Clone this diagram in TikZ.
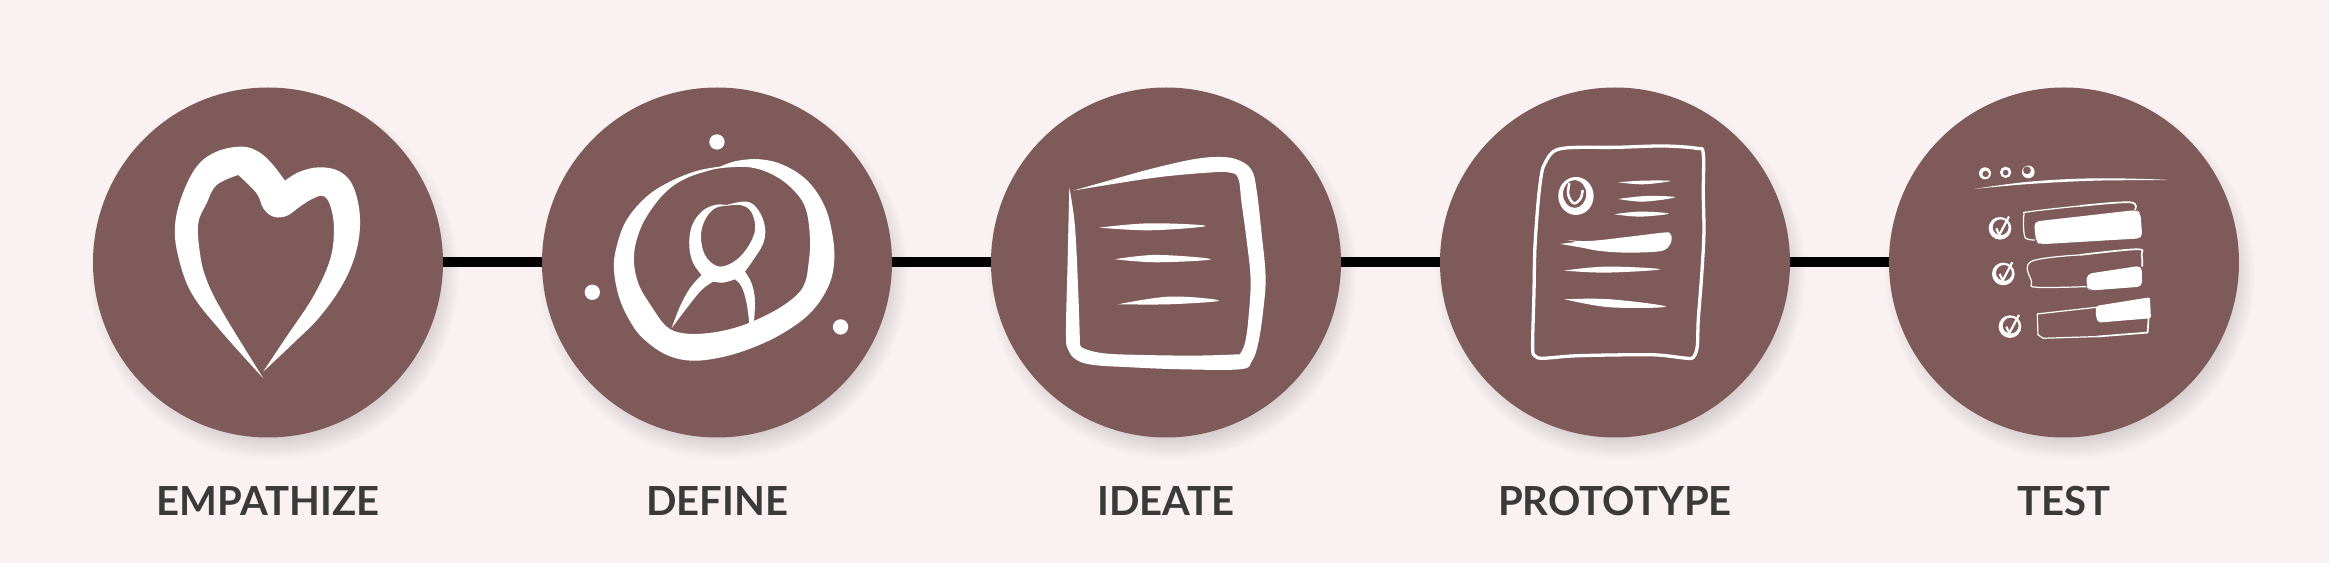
\documentclass[tikz,border=0pt]{standalone}
\usepackage{fontspec}
\setmainfont{Lato}
\usepackage{tikz}
\usetikzlibrary{positioning,backgrounds}
\definecolor{hatter}{RGB}{250,241,242}
\definecolor{barna}{RGB}{127,90,90}
\definecolor{betu}{RGB}{58,58,58}
\tikzset{
  kor/.style={circle,fill=barna,minimum size=3.5cm,inner sep=0pt,outer sep=0pt},
  vonal/.style={line width=1mm,black},
  cimke/.style={inner sep=0pt,text height=2.9mm,text depth=0pt,text=betu,
    font=\fontsize{11.4}{12}\selectfont\bfseries},
  ikon/.style 2 args={shift={(#1,#2)},x=.03333mm,y=-.03333mm},
  kez/.style={smooth,tension=.62},
  toll/.style={draw=white,line width=.33mm,line join=round},
  szal/.style={draw=white,line width=.12mm,line join=round},
  blokk/.style={fill=white,rounded corners=.5mm},
}

\begin{document}
\begin{tikzpicture}[x=.1mm,y=-.1mm,node distance=9.9mm]
  \useasboundingbox (0,0) rectangle (2329,563);

  \node[kor] (emp) at (268,262.5) {};
  \node[kor] (def) [right=of emp] {};
  \node[kor] (ide) [right=of def] {};
  \node[kor] (pro) [right=of ide] {};
  \node[kor] (tes) [right=of pro] {};
  \draw[vonal] (emp) -- (def);
  \draw[vonal] (def) -- (ide);
  \draw[vonal] (ide) -- (pro);
  \draw[vonal] (pro) -- (tes);
  \node[cimke] (empc) [below=4.85mm of emp] {EMPATHIZE};
  \node[cimke] (defc) [below=4.85mm of def] {DEFINE};
  \node[cimke] (idec) [below=4.85mm of ide] {IDEATE};
  \node[cimke] (proc) [below=4.85mm of pro] {PROTOTYPE};
  \node[cimke] (tesc) [below=4.85mm of tes] {TEST};

  \begin{scope}[on background layer]
    \fill[hatter] (0,0) rectangle (2329,563);
    \foreach \n in {emp,def,ide,pro,tes}
      \foreach \r in {145,147,...,185}
        \fill[black,opacity=.011] ([shift={(6,12)}]\n.center) circle (\r);
  \end{scope}

  \begin{scope}[ikon={60}{60}]
    \fill[white] plot[kez] coordinates {(610,955) (480,810) (395,700) (355,590) (345,500) (365,410)
      (410,320) (470,275) (545,260) (595,275) (635,310) (675,362)}
      -- plot[kez] coordinates {(675,362) (720,335) (780,322) (840,335) (880,380) (900,470) (890,570)
      (850,670) (780,770) (700,850) (610,935)}
      -- plot[kez] coordinates {(610,935) (680,830) (760,710) (810,600) (822,510) (812,440) (790,408)
      (755,418) (720,440) (680,468) (640,470) (610,445) (590,400) (535,345)}
      -- plot[kez] coordinates {(535,345) (470,375) (440,430) (415,490) (420,580) (440,660)
      (490,760) (610,955)} -- cycle;
  \end{scope}

  \begin{scope}[ikon={520}{60}]
    \fill[white] (591,246) circle (23) (217,697) circle (23) (962,801) circle (23);
    \fill[white,even odd rule] plot[kez] coordinates {(600,320) (650,303) (720,298) (790,315) (860,360)
      (910,430) (935,510) (943,600) (925,680) (870,760) (780,825) (680,870) (590,895) (510,902)
      (440,885) (380,845) (340,800) (300,720) (282,630) (290,560) (320,480) (380,410) (450,365)
      (530,333) (600,320)} -- cycle
      plot[kez] coordinates {(585,327) (510,350) (450,385) (400,440) (360,510) (342,590) (355,670)
      (395,740) (440,800) (490,820) (560,820) (640,805) (720,775) (800,730) (850,680) (866,610)
      (870,530) (855,440) (810,380) (750,340) (690,322) (630,322) (585,327)} -- cycle;
    \fill[white,even odd rule] plot[kez] coordinates {(620,435) (680,425) (715,450) (735,500) (730,550)
      (700,600) (675,635)}
      -- plot[kez] coordinates {(675,635) (695,670) (705,720) (702,785)} -- (688,790)
      -- plot[kez] coordinates {(688,790) (680,730) (665,680) (645,658)}
      -- plot[kez] coordinates {(645,658) (610,668) (580,665)}
      -- plot[kez] coordinates {(580,665) (545,690) (500,745) (455,805)}
      -- plot[kez] coordinates {(455,805) (480,740) (510,685) (545,645)}
      -- plot[kez] coordinates {(545,645) (520,610) (508,560) (515,500) (545,455) (585,435) (620,435)} -- cycle
      plot[kez] coordinates {(625,437) (585,445) (555,480) (543,530) (555,585) (590,618) (630,612)
      (670,580) (700,530) (705,490) (690,450) (660,435) (625,437)} -- cycle;
  \end{scope}

  \begin{scope}[ikon={980}{60}]
    \fill[white] plot[kez] coordinates {(268,382) (263,600) (258,820) (265,870) (290,900) (340,915)
      (450,922) (600,928) (780,928) (815,905) (835,850) (850,750) (857,650) (845,520) (830,390)
      (815,330) (775,300) (720,291) (640,298) (520,325) (400,358) (280,392)}
      -- plot[kez] coordinates {(280,392) (400,372) (550,350) (700,337) (750,338) (775,355) (785,430)
      (800,540) (812,660) (805,780) (795,850) (780,883)}
      -- plot[kez] coordinates {(780,883) (650,887) (480,885) (370,880) (310,865) (300,850)}
      -- plot[kez] coordinates {(300,850) (295,700) (285,500) (268,382)} -- cycle;
    \fill[white] plot[kez] coordinates {(358,503) (510,490) (678,498) (510,511) (358,503)};
    \fill[white] plot[kez] coordinates {(405,598) (530,585) (693,598) (530,607) (405,598)};
    \fill[white] plot[kez] coordinates {(415,733) (570,710) (717,722) (570,733) (415,733)};
  \end{scope}

  \begin{scope}[ikon={1430}{60}]
    \draw[toll] plot[smooth cycle,tension=.55] coordinates {(345,310) (370,275) (420,263) (560,262) (700,258)
      (800,265) (820,280) (820,400) (822,520) (815,650) (805,780) (802,860) (790,892) (770,895)
      (680,885) (560,885) (430,888) (340,895) (315,888) (308,860) (312,700) (315,560) (325,420) (335,340)};
    \fill[white,even odd rule] (438,408) ellipse (53 and 57) (434,402) ellipse (35 and 42);
    \draw[toll,line width=.25mm] plot[kez] coordinates {(418,370) (415,405) (432,430) (452,415) (458,390)};
    \fill[white] plot[kez] coordinates {(565,367) (640,362) (722,363) (640,373) (565,367)};
    \fill[white] plot[kez] coordinates {(565,417) (650,408) (735,412) (640,425) (565,417)};
    \fill[white] plot[kez] coordinates {(553,463) (630,455) (716,461) (630,470) (553,463)};
    \fill[white] (390,552) -- (440,546) -- (410,540) -- plot[kez] coordinates {(410,540) (480,543) (600,530)
      (700,518) (720,520) (725,540) (712,565) (680,575) (590,578) (510,573) (450,562) (390,552)};
    \fill[white] plot[kez] coordinates {(402,632) (530,620) (690,628) (530,638) (402,632)};
    \fill[white] plot[kez] coordinates {(404,718) (540,718) (708,740) (540,742) (404,718)};
  \end{scope}

  \begin{scope}[ikon={1880}{60}]
    \fill[white,even odd rule] (315,340) circle (18) (317,342) circle (10)
      (377,337) circle (17) (377,338) circle (9)
      (445,336) circle (19) (441,331) circle (12);
    \fill[white] plot[kez] coordinates {(282,387) (450,365) (650,355) (862,360) (650,362) (450,372) (282,387)};
    \foreach \kx/\ky in {360/505,370/642,390/800} {
      \fill[white,even odd rule] (\kx,\ky) circle (34) (\kx+2,\ky-3) circle (24);
      \draw[szal,line width=.22mm] (\kx-11,\ky) -- (\kx-2,\ky+20) -- (\kx+27,\ky-35);
    }
    \draw[szal] plot[kez] coordinates {(465,540) (445,538) (433,525) (432,465) (450,455) (600,438)};
    \draw[toll,line width=.17mm] plot[kez] coordinates {(600,438) (750,427) (765,450)};
    \fill[blokk] (462,485) -- (770,450) -- (782,460) -- (787,535) -- (480,553) -- (468,545) -- cycle;
    \draw[szal] plot[kez] coordinates {(620,680) (470,682) (455,665) (453,605) (600,585)};
    \draw[toll,line width=.17mm] plot[kez] coordinates {(600,585) (770,568) (785,585) (787,620)};
    \fill[blokk] (620,642) -- (785,617) -- (787,680) -- (628,692) -- (620,680) -- cycle;
    \draw[szal] (650,742) -- (472,762) -- (474,825) -- (490,835) -- (650,830);
    \draw[toll,line width=.17mm] (650,830) -- (803,818) -- (806,775);
    \fill[blokk,rounded corners=.2mm] (648,738) -- (810,712) -- (813,775) -- (655,788) -- (648,770) -- cycle;
  \end{scope}
\end{tikzpicture}
\end{document}
